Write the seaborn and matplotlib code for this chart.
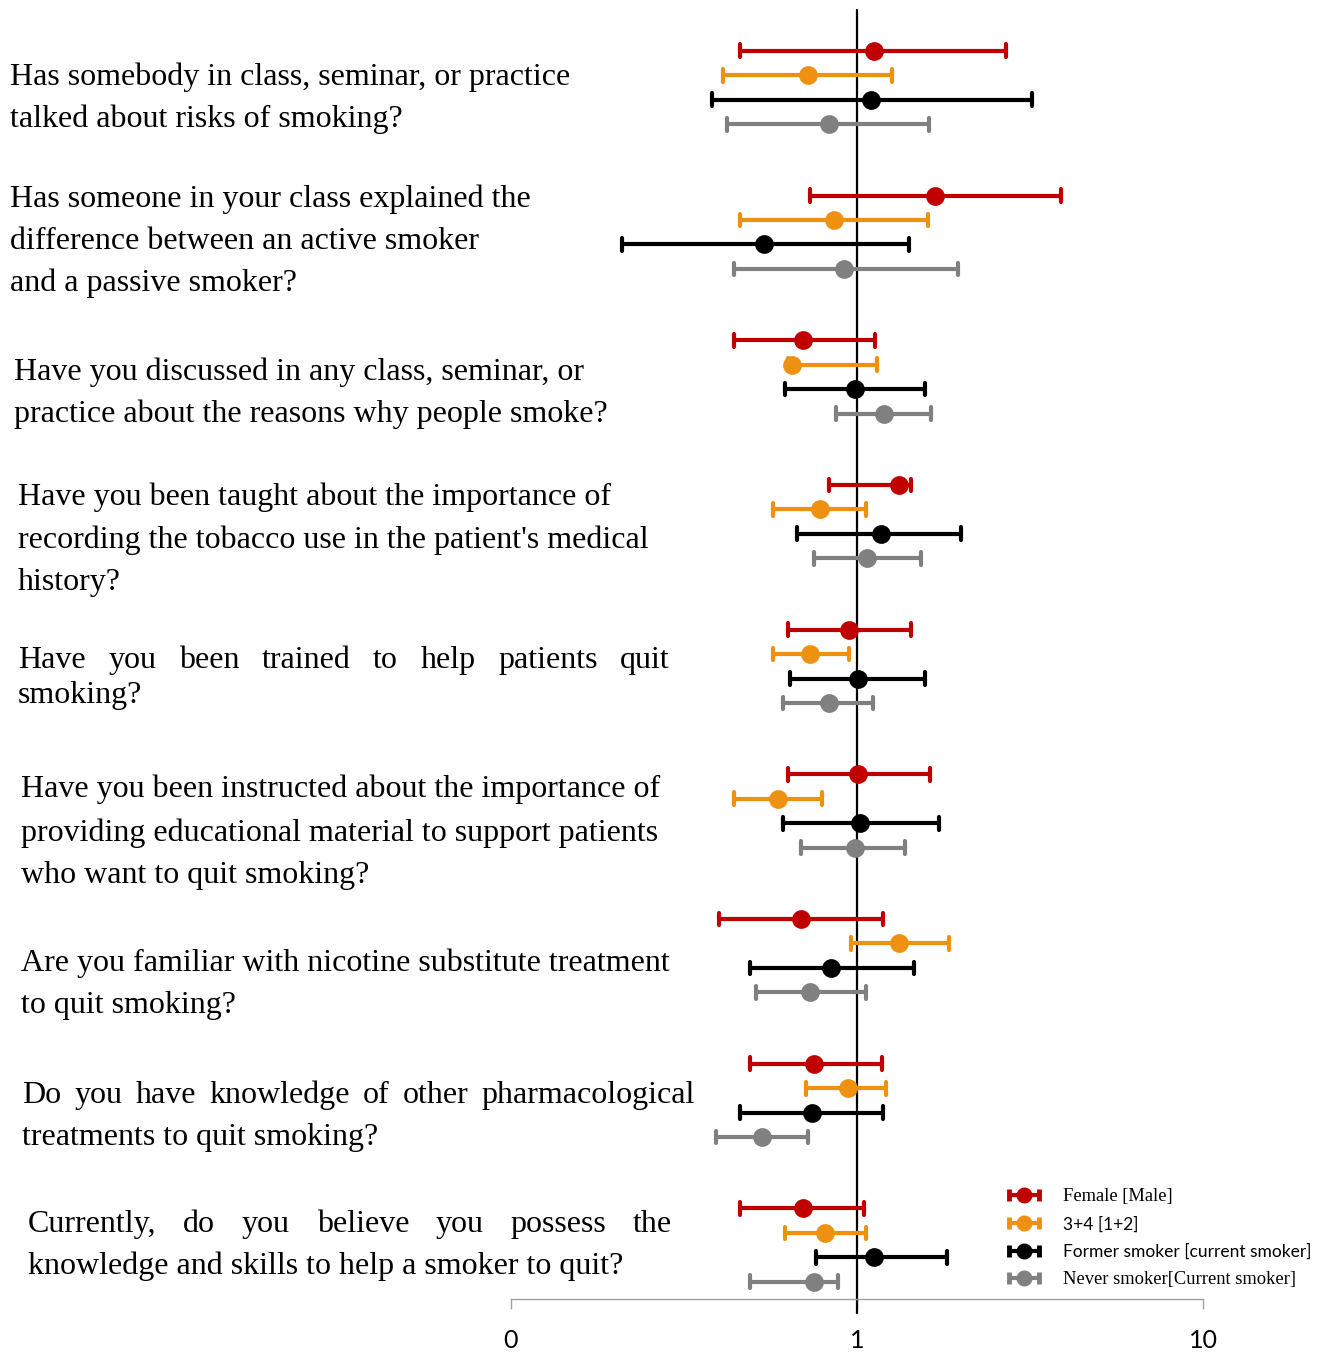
import numpy as np
import pandas as pd
import matplotlib
matplotlib.use("Agg")
import matplotlib.pyplot as plt
import seaborn as sns
from matplotlib.lines import Line2D
from matplotlib.collections import LineCollection
from matplotlib.container import ErrorbarContainer
from matplotlib.legend_handler import HandlerErrorbar

# ---------------------------------------------------------------- data
questions = [
    "Has somebody in class, seminar, or practice\ntalked about risks of smoking?",
    "Has someone in your class explained the\ndifference between an active smoker\nand a passive smoker?",
    "Have you discussed in any class, seminar, or\npractice about the reasons why people smoke?",
    "Have you been taught about the importance of\nrecording the tobacco use in the patient's medical\nhistory?",
    "Have you been trained to help patients quit\nsmoking?",
    "Have you been instructed about the importance of\nproviding educational material to support patients\nwho want to quit smoking?",
    "Are you familiar with nicotine substitute treatment\nto quit smoking?",
    "Do you have knowledge of other pharmacological\ntreatments to quit smoking?",
    "Currently, do you believe you possess the\nknowledge and skills to help a smoker to quit?",
]

groups = ["Female [Male]", "3+4 [1+2]",
          "Former smoker [current smoker]", "Never smoker[Current smoker]"]

# odds ratios with lower / upper confidence limits, per comparison
female_or = [1.12, 1.68, 0.70, 1.32, 0.95, 1.01, 0.69, 0.75, 0.70]
female_lo = [0.46, 0.73, 0.44, 0.83, 0.63, 0.63, 0.40, 0.49, 0.46]
female_hi = [2.70, 3.89, 1.13, 1.43, 1.43, 1.63, 1.19, 1.18, 1.05]

year_or = [0.72, 0.86, 0.65, 0.78, 0.73, 0.59, 1.32, 0.94, 0.81]
year_lo = [0.41, 0.46, 0.63, 0.57, 0.57, 0.44, 0.96, 0.71, 0.62]
year_hi = [1.26, 1.60, 1.14, 1.06, 0.95, 0.79, 1.85, 1.21, 1.06]

former_or = [1.10, 0.54, 0.99, 1.17, 1.01, 1.02, 0.84, 0.74, 1.12]
former_lo = [0.38, 0.21, 0.62, 0.67, 0.64, 0.61, 0.49, 0.46, 0.76]
former_hi = [3.20, 1.41, 1.57, 2.00, 1.57, 1.73, 1.46, 1.19, 1.82]

never_or = [0.83, 0.92, 1.20, 1.07, 0.83, 0.99, 0.73, 0.53, 0.75]
never_lo = [0.42, 0.44, 0.87, 0.75, 0.61, 0.69, 0.51, 0.39, 0.49]
never_hi = [1.62, 1.96, 1.64, 1.53, 1.11, 1.38, 1.06, 0.72, 0.88]

x_ticks = [0.1, 1, 10]
x_tick_labels = ["0", "1", "10"]

palette = ["#C00000", "#EF9110", "#000000", "#808080"]

# long table: lower limit, estimate and upper limit for every question/group
series = {
    groups[0]: (female_lo, female_or, female_hi),
    groups[1]: (year_lo, year_or, year_hi),
    groups[2]: (former_lo, former_or, former_hi),
    groups[3]: (never_lo, never_or, never_hi),
}
records = []
for g, (lo, est, hi) in series.items():
    for q, a, b, c in zip(questions, lo, est, hi):
        for v in (a, b, c):
            records.append({"question": q, "group": g, "value": v})
df = pd.DataFrame.from_records(records)

# ---------------------------------------------------------------- figure
W, H = 1327, 1353
sns.set_style("white")
plt.rcParams["font.family"] = ["Liberation Serif", "DejaVu Serif"]
plt.rcParams["text.color"] = "black"

fig = plt.figure(figsize=(W / 100, H / 100), dpi=100)
ax = fig.add_axes([511 / W, 54 / H, 692 / W, 1289 / H])


def px(x, y):
    return x / W, 1 - y / H


sns.pointplot(
    data=df, x="value", y="question", hue="group",
    order=questions, hue_order=groups, palette=palette,
    estimator="median", errorbar=("pi", 100), log_scale=True,
    dodge=0.507, capsize=0.088, linestyle="none", marker="o",
    markersize=12, markeredgewidth=1.5,
    err_kws={"linewidth": 3.0}, legend=False, ax=ax,
)

ax.set_xlim(0.1, 10)
ax.set_ylim(8.3725, -0.5356)
ax.axvline(1, ymin=-14 / 1289, ymax=1, color="black", lw=1.6,
           clip_on=False, zorder=1.5)

for side in ("left", "right", "top"):
    ax.spines[side].set_visible(False)
ax.spines["bottom"].set_color("#A0A0A0")
ax.spines["bottom"].set_linewidth(1.0)
ax.set_xticks(x_ticks)
ax.set_xticklabels(x_tick_labels)
ax.xaxis.set_minor_locator(matplotlib.ticker.NullLocator())
ax.tick_params(axis="x", bottom=True, direction="out", length=7.5,
               width=1.0, color="#A0A0A0", pad=14, labelsize=18,
               labelcolor="black")
for lab in ax.get_xticklabels():
    lab.set_fontfamily("Lato")
ax.tick_params(axis="y", left=False, labelleft=False)
ax.set_xlabel("")
ax.set_ylabel("")

# ---------------------------------------------------------------- question text
q_left = [10, 10, 14, 18, 18, 21, 21, 22, 28]
q_baselines = [[85, 127], [207, 249, 291], [380, 422], [505, 548, 590],
               [668, 703], [797, 841, 883], [971, 1013], [1103, 1145],
               [1232, 1274]]
q_justify = {4: 670, 7: 695, 8: 672}   # first line stretched to this edge
q_size = 23

renderer = fig.canvas.get_renderer()
for i, q in enumerate(questions):
    for j, (line, yb) in enumerate(zip(q.split("\n"), q_baselines[i])):
        if j == 0 and i in q_justify:
            words = line.split()
            arts = [fig.text(0, 0, w, fontsize=q_size, va="baseline",
                             ha="left", color="black") for w in words]
            widths = [a.get_window_extent(renderer).width for a in arts]
            gap = (q_justify[i] - q_left[i] - sum(widths)) / (len(words) - 1)
            x = q_left[i]
            for a, w in zip(arts, widths):
                a.set_position(px(x, yb))
                x += w + gap
        else:
            fig.text(*px(q_left[i], yb), line, fontsize=q_size,
                     va="baseline", ha="left", color="black")

# ---------------------------------------------------------------- legend
handles = []
for c in palette:
    dot = Line2D([], [], color=c, marker="o", markersize=10.5, linestyle="none")
    cap = Line2D([], [], color=c, marker="|", markersize=8.5,
                 markeredgewidth=3.5)
    bar = LineCollection([], colors=c, linewidths=3.0)
    handles.append(ErrorbarContainer((dot, (cap, cap), (bar,)),
                                     has_xerr=True, has_yerr=False))

leg = fig.legend(
    handles, groups, loc="upper left", bbox_to_anchor=px(1009, 1188),
    frameon=False, fontsize=12.5, handlelength=1.75, handletextpad=1.35,
    labelspacing=0.64, borderpad=0, borderaxespad=0,
    handler_map={ErrorbarContainer: HandlerErrorbar(xerr_size=0.86)},
)
legend_fonts = ["Liberation Serif", "Lato", "Lato", "Liberation Serif"]
legend_sizes = [13.3, 12.5, 12.5, 13.3]
for t, f, s in zip(leg.get_texts(), legend_fonts, legend_sizes):
    t.set_fontfamily(f)
    t.set_fontsize(s)
    t.set_color("black")

fig.savefig("out.png", dpi=100)
